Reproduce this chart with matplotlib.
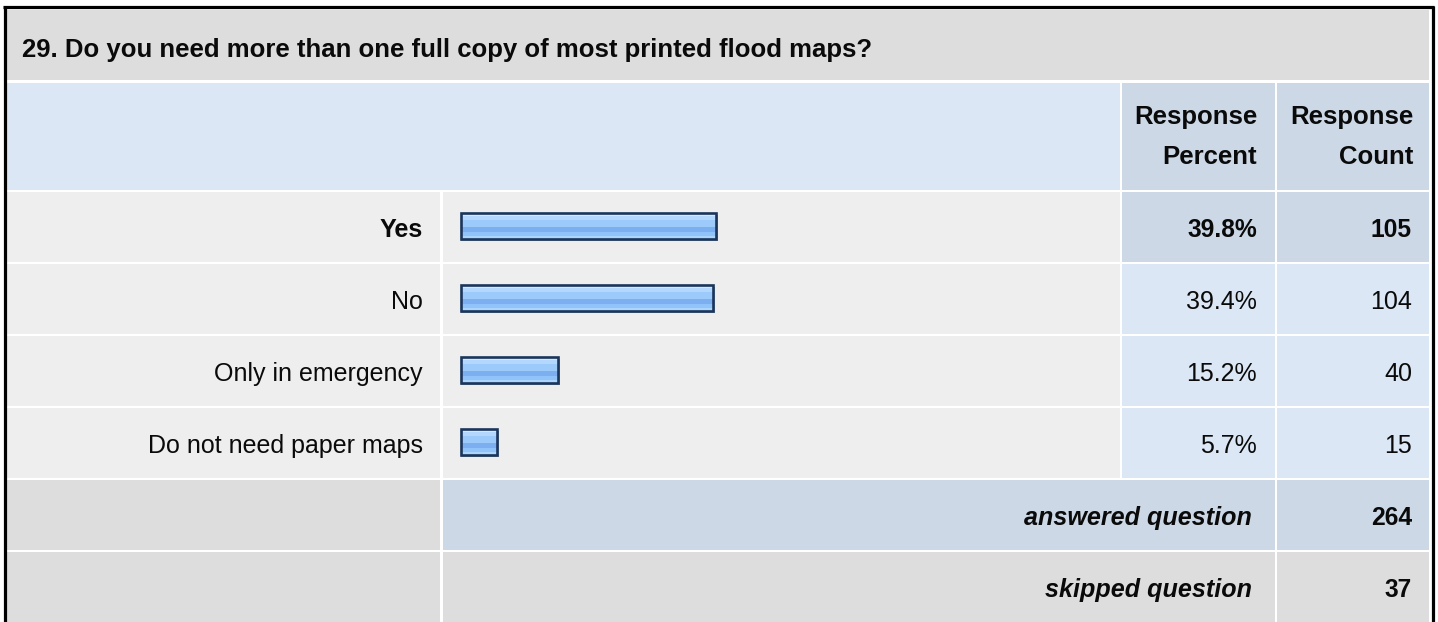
import matplotlib
matplotlib.use("Agg")
import matplotlib.pyplot as plt
from matplotlib.patches import Rectangle

# ---- data ----
title = "29. Do you need more than one full copy of most printed flood maps?"
categories = ["Yes", "No", "Only in emergency", "Do not need paper maps"]
percents = [39.8, 39.4, 15.2, 5.7]
counts = [105, 104, 40, 15]
answered = 264
skipped = 37
header_pct = ["Response", "Percent"]
header_cnt = ["Response", "Count"]

W, H = 1438, 622
FONT = "Liberation Sans"
FS = 18.0
FSB = 18.1
C_GRAY = "#dddddd"
C_LIGHT = "#eeeeee"
C_BLUE = "#dce7f5"
C_DBLUE = "#ccd8e6"
TXT = "#0a0a0a"

fig = plt.figure(figsize=(W / 100, H / 100), dpi=100)
fig.patch.set_facecolor("white")
ax = fig.add_axes([0, 0, 1, 1])
ax.set_xlim(0, W)
ax.set_ylim(H, 0)
ax.axis("off")


def cell(x0, x1, y0, y1, color):
    ax.add_patch(Rectangle((x0, y0), x1 - x0, y1 - y0, facecolor=color,
                           edgecolor="none", zorder=1))


def txt(x, y, s, bold=False, italic=False, size=None, ha="right"):
    if size is None:
        size = FSB if bold else FS
    ax.text(x, y, s, fontsize=size, fontweight="bold" if bold else "normal",
            style="italic" if italic else "normal", family=FONT,
            va="baseline", ha=ha, color=TXT, zorder=6)


# title row
cell(7, 1429, 10, 80, C_GRAY)
# header
cell(7, 1120, 83, 190, C_BLUE)
cell(1122, 1275, 83, 190, C_DBLUE)
cell(1277, 1429, 83, 190, C_DBLUE)
# answer rows
row_top = 192
pitch = 72
for i in range(len(categories)):
    y0 = row_top + i * pitch
    y1 = y0 + pitch - 2
    c = C_DBLUE if i == 0 else C_BLUE
    cell(7, 440, y0, y1, C_LIGHT)
    cell(443, 1120, y0, y1, C_LIGHT)
    cell(1122, 1275, y0, y1, c)
    cell(1277, 1429, y0, y1, c)
# answered / skipped
ya = row_top + 4 * pitch
cell(7, 440, ya, ya + pitch - 2, C_GRAY)
cell(443, 1275, ya, ya + pitch - 2, C_DBLUE)
cell(1277, 1429, ya, ya + pitch - 2, C_DBLUE)
ys = ya + pitch
cell(7, 440, ys, H + 5, C_GRAY)
cell(443, 1275, ys, H + 5, C_GRAY)
cell(1277, 1429, ys, H + 5, C_GRAY)

# outer border (no bottom edge visible)
bk = dict(color="black", lw=2.3, solid_capstyle="butt", zorder=5)
ax.plot([4.5, 4.5], [6, H + 5], **bk)
ax.plot([1432.5, 1432.5], [6, H + 5], **bk)
ax.plot([3.3, 1433.7], [7, 7], **bk)

# ---- texts ----
txt(22, 57, title, bold=True, size=18.5, ha="left")
for k, line in enumerate(header_pct):
    txt(1257, 124 + 40 * k, line, bold=True, size=18.5)
for k, line in enumerate(header_cnt):
    txt(1413, 124 + 40 * k, line, bold=True, size=18.5)

for i, (cat, p, n) in enumerate(zip(categories, percents, counts)):
    yb = row_top + i * pitch + 45
    b = (i == 0)
    txt(423, yb, cat, bold=b)
    txt(1257, yb, f"{p:.1f}%", bold=b, size=17.7 if b else FS)
    txt(1412, yb, f"{n}", bold=b, size=17.7 if b else FS)

txt(1252, ya + 45, "answered question", bold=True, italic=True)
txt(1412, ya + 45, f"{answered}", bold=True, size=17.7)
txt(1252, ys + 45, "skipped question", bold=True, italic=True)
txt(1412, ys + 45, f"{skipped}", bold=True, size=17.7)

# ---- bars (own axes, x in percent) ----
px0 = 460.5      # pixel of 0 %
scale = 6.42     # pixels per percent
bx0, bx1 = 443, 1120
by0, by1 = 190, 190 + 4 * pitch
axb = fig.add_axes([bx0 / W, 1 - by1 / H, (bx1 - bx0) / W, (by1 - by0) / H])
axb.set_xlim((bx0 - px0) / scale, (bx1 - px0) / scale)
axb.set_ylim(len(categories) - 0.5, -0.5)
axb.axis("off")
axb.patch.set_alpha(0)

ypos = list(range(len(categories)))
bh = 0.37
stripes = [(0.00, 0.12, "#d2e8ff"), (0.12, 0.26, "#b4d8fd"), (0.26, 0.55, "#9ccbfb"),
           (0.55, 0.74, "#7bafef"), (0.74, 0.87, "#91c3fb"), (0.87, 1.00, "#abd5fd")]
# soft shadow below / right of each bar
axb.barh([y + 0.03 for y in ypos], [p + 0.2 for p in percents], height=bh,
         left=0.1, color="#9aa6b8", edgecolor="none", zorder=1.5)
for f0, f1, col in stripes:
    hgt = bh * (f1 - f0)
    centers = [y - bh / 2 + bh * (f0 + f1) / 2 for y in ypos]
    axb.barh(centers, percents, height=hgt, left=0, color=col, edgecolor="none",
             zorder=2)
axb.barh(ypos, percents, height=bh, left=0, fill=False, edgecolor="#1b355b",
         linewidth=1.9, zorder=3)

fig.savefig("out.png", dpi=100)
